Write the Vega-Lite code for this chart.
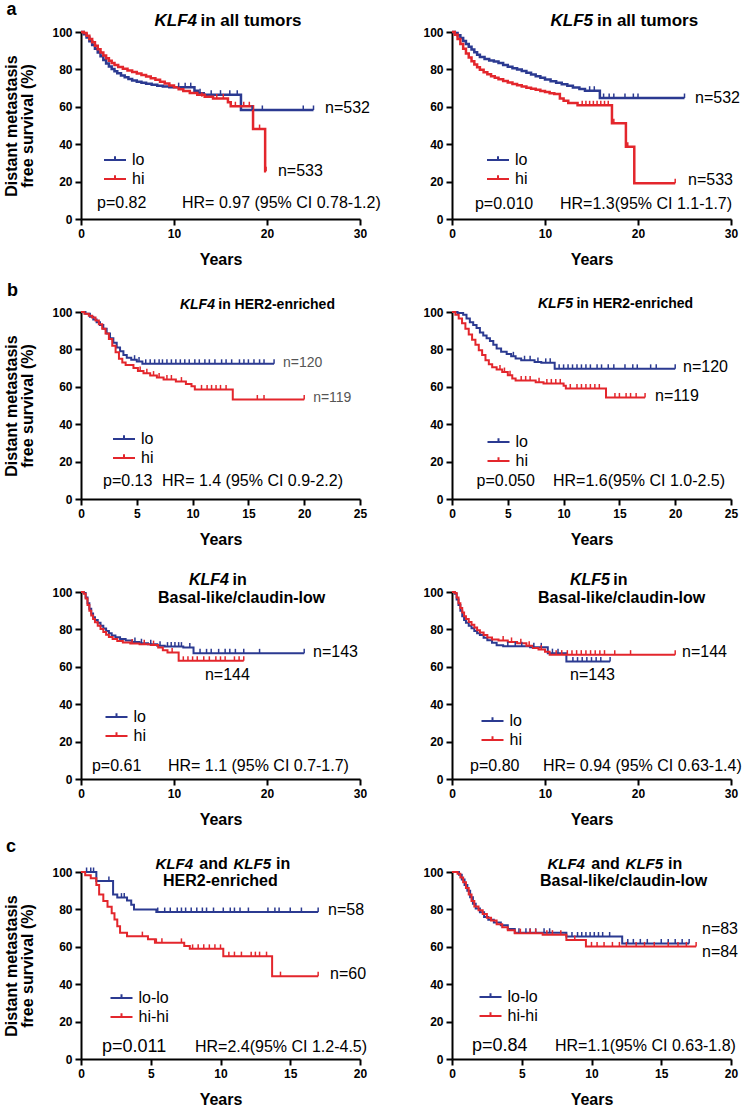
{
"$schema": "https://vega.github.io/schema/vega-lite/v6.json",
"background": "white",
"padding": {"left": 3, "top": 0, "right": 0, "bottom": 0},
"bounds": "flush",
"columns": 2,
"spacing": {"row": 93, "column": 92},
"resolve": {"scale": {"color": "independent", "x": "independent", "y": "independent"}, "legend": {"color": "independent"}},
"config": {
  "font": "Liberation Sans",
  "view": {"stroke": null},
  "axis": {"domainColor": "black", "domainWidth": 2, "tickColor": "black", "tickWidth": 2, "tickSize": 6, "labelFont": "Liberation Sans", "labelFontWeight": "bold", "labelFontSize": 12, "labelColor": "black", "labelPadding": 3, "labelFlush": false, "labelOverlap": false, "titleFont": "Liberation Sans", "titleFontWeight": "bold", "titleFontSize": 16, "titleColor": "black", "titleLineHeight": 16, "grid": false},
  "axisX": {"titlePadding": 12},
  "axisY": {"titlePadding": 16},
  "legend": {"orient": "none", "title": null, "labelFont": "Liberation Sans", "labelFontSize": 16, "labelColor": "black", "symbolType": "M-2,0H2M0,0V-0.7", "symbolSize": 121, "symbolStrokeWidth": 2, "padding": 0, "rowPadding": 3, "labelOffset": 9},
  "text": {"font": "Liberation Sans", "color": "black", "align": "left", "baseline": "alphabetic"}
},
"datasets": {
"P1": [
{"t":0,"s":100,"g":"lo"},{"t":0.3,"s":98.8,"g":"lo"},{"t":0.6,"s":97,"g":"lo"},{"t":0.9,"s":95,"g":"lo"},{"t":1.2,"s":93,"g":"lo"},{"t":1.5,"s":91,"g":"lo"},{"t":1.8,"s":89,"g":"lo"},{"t":2.1,"s":87,"g":"lo"},{"t":2.4,"s":85,"g":"lo"},{"t":2.7,"s":83.2,"g":"lo"},{"t":3,"s":81.6,"g":"lo"},{"t":3.3,"s":80.2,"g":"lo"},{"t":3.6,"s":79,"g":"lo"},{"t":3.9,"s":77.9,"g":"lo"},{"t":4.3,"s":76.8,"g":"lo"},{"t":4.7,"s":75.8,"g":"lo"},{"t":5.1,"s":74.9,"g":"lo"},{"t":5.5,"s":74.1,"g":"lo"},{"t":6,"s":73.4,"g":"lo"},{"t":6.5,"s":72.8,"g":"lo"},{"t":7,"s":72.3,"g":"lo"},{"t":7.6,"s":71.8,"g":"lo"},{"t":8.2,"s":71.3,"g":"lo"},{"t":8.8,"s":70.8,"g":"lo"},{"t":9.5,"s":70.5,"g":"lo"},{"t":12.2,"s":68.6,"g":"lo"},{"t":12.6,"s":67.3,"g":"lo"},{"t":13.2,"s":66.5,"g":"lo"},{"t":17.2,"s":58.3,"g":"lo"},{"t":25,"s":58.3,"g":"lo"},
{"t":0,"s":100,"g":"hi"},{"t":0.3,"s":99.5,"g":"hi"},{"t":0.6,"s":98,"g":"hi"},{"t":0.9,"s":96.3,"g":"hi"},{"t":1.2,"s":94.5,"g":"hi"},{"t":1.5,"s":92.6,"g":"hi"},{"t":1.8,"s":90.8,"g":"hi"},{"t":2.1,"s":89.1,"g":"hi"},{"t":2.4,"s":87.5,"g":"hi"},{"t":2.7,"s":86,"g":"hi"},{"t":3,"s":84.6,"g":"hi"},{"t":3.3,"s":83.4,"g":"hi"},{"t":3.6,"s":82.4,"g":"hi"},{"t":4,"s":81.3,"g":"hi"},{"t":4.5,"s":80.3,"g":"hi"},{"t":5,"s":79.4,"g":"hi"},{"t":5.5,"s":78.6,"g":"hi"},{"t":6,"s":77.8,"g":"hi"},{"t":6.5,"s":77,"g":"hi"},{"t":7,"s":76.2,"g":"hi"},{"t":7.5,"s":75.3,"g":"hi"},{"t":8,"s":74.4,"g":"hi"},{"t":8.5,"s":73.4,"g":"hi"},{"t":9,"s":72.4,"g":"hi"},{"t":9.5,"s":71.4,"g":"hi"},{"t":10,"s":70.4,"g":"hi"},{"t":10.5,"s":69.4,"g":"hi"},{"t":11,"s":68.4,"g":"hi"},{"t":11.7,"s":67.4,"g":"hi"},{"t":12.5,"s":66.4,"g":"hi"},{"t":13.3,"s":65.4,"g":"hi"},{"t":14.2,"s":64.5,"g":"hi"},{"t":15.8,"s":62.4,"g":"hi"},{"t":16.1,"s":60.3,"g":"hi"},{"t":18.5,"s":48.1,"g":"hi"},{"t":19.8,"s":25.5,"g":"hi"},{"t":19.9,"s":25.5,"g":"hi"}
],
"P1c": [
{"t":10.5,"s":70.5,"g":"lo"},{"t":11.2,"s":70.5,"g":"lo"},{"t":11.8,"s":70.5,"g":"lo"},{"t":12.8,"s":67.3,"g":"lo"},{"t":14,"s":66.5,"g":"lo"},{"t":15,"s":66.5,"g":"lo"},{"t":16,"s":66.5,"g":"lo"},{"t":16.8,"s":66.5,"g":"lo"},{"t":18.4,"s":58.3,"g":"lo"},{"t":19.5,"s":58.3,"g":"lo"},{"t":23.9,"s":58.3,"g":"lo"},{"t":25,"s":58.3,"g":"lo"},
{"t":13,"s":65.4,"g":"hi"},{"t":14.6,"s":64.5,"g":"hi"},{"t":15.3,"s":64.5,"g":"hi"},{"t":16.6,"s":60.3,"g":"hi"},{"t":17.5,"s":60.3,"g":"hi"},{"t":18.1,"s":60.3,"g":"hi"},{"t":19.2,"s":48.1,"g":"hi"},{"t":19.9,"s":25.5,"g":"hi"}
],
"P1t": [
{"t":12.47,"s":103.2,"txt":"KLF4","k":"ti"},{"t":12.85,"s":103.2,"txt":"in all tumors","k":"tn"},
{"t":26.24,"s":56.7,"txt":"n=532","k":"ann"},{"t":21.18,"s":23,"txt":"n=533","k":"ann"},
{"t":1.72,"s":5.9,"txt":"p=0.82","k":"ann"},{"t":10.86,"s":5.9,"txt":"HR= 0.97 (95% CI 0.78-1.2)","k":"ann"},
{"t":-8,"s":109.3,"txt":"a","k":"lab"}
],
"P2": [
{"t":0,"s":100,"g":"lo"},{"t":0.3,"s":99.5,"g":"lo"},{"t":0.6,"s":98.3,"g":"lo"},{"t":0.9,"s":96.8,"g":"lo"},{"t":1.2,"s":95.2,"g":"lo"},{"t":1.5,"s":93.6,"g":"lo"},{"t":1.8,"s":92.1,"g":"lo"},{"t":2.1,"s":90.6,"g":"lo"},{"t":2.4,"s":89.2,"g":"lo"},{"t":2.7,"s":87.8,"g":"lo"},{"t":3,"s":86.6,"g":"lo"},{"t":3.5,"s":85.5,"g":"lo"},{"t":4,"s":84.7,"g":"lo"},{"t":4.5,"s":84.2,"g":"lo"},{"t":5,"s":83.4,"g":"lo"},{"t":5.5,"s":82.3,"g":"lo"},{"t":6,"s":81.4,"g":"lo"},{"t":6.5,"s":80.6,"g":"lo"},{"t":7,"s":79.9,"g":"lo"},{"t":7.5,"s":79.1,"g":"lo"},{"t":8,"s":78.2,"g":"lo"},{"t":8.5,"s":77.3,"g":"lo"},{"t":9,"s":76.4,"g":"lo"},{"t":9.5,"s":75.5,"g":"lo"},{"t":10,"s":74.6,"g":"lo"},{"t":10.6,"s":73.7,"g":"lo"},{"t":11.2,"s":72.8,"g":"lo"},{"t":11.8,"s":72,"g":"lo"},{"t":12.4,"s":71.2,"g":"lo"},{"t":13,"s":70.3,"g":"lo"},{"t":13.7,"s":69.5,"g":"lo"},{"t":14.3,"s":68.6,"g":"lo"},{"t":15.9,"s":64.7,"g":"lo"},{"t":25,"s":64.7,"g":"lo"},
{"t":0,"s":100,"g":"hi"},{"t":0.3,"s":98.5,"g":"hi"},{"t":0.6,"s":96.2,"g":"hi"},{"t":0.9,"s":93.6,"g":"hi"},{"t":1.2,"s":91,"g":"hi"},{"t":1.5,"s":88.5,"g":"hi"},{"t":1.8,"s":86.3,"g":"hi"},{"t":2.1,"s":84.4,"g":"hi"},{"t":2.4,"s":82.6,"g":"hi"},{"t":2.7,"s":81.1,"g":"hi"},{"t":3,"s":79.8,"g":"hi"},{"t":3.4,"s":78.5,"g":"hi"},{"t":3.8,"s":77.4,"g":"hi"},{"t":4.2,"s":76.4,"g":"hi"},{"t":4.6,"s":75.5,"g":"hi"},{"t":5,"s":74.7,"g":"hi"},{"t":5.5,"s":73.8,"g":"hi"},{"t":6,"s":73,"g":"hi"},{"t":6.5,"s":72.2,"g":"hi"},{"t":7,"s":71.5,"g":"hi"},{"t":7.5,"s":70.8,"g":"hi"},{"t":8,"s":70.2,"g":"hi"},{"t":8.5,"s":69.6,"g":"hi"},{"t":9,"s":69.1,"g":"hi"},{"t":9.5,"s":68.5,"g":"hi"},{"t":10,"s":67.9,"g":"hi"},{"t":10.5,"s":67.3,"g":"hi"},{"t":11,"s":66.8,"g":"hi"},{"t":11.6,"s":64.5,"g":"hi"},{"t":12,"s":63.2,"g":"hi"},{"t":12.5,"s":62,"g":"hi"},{"t":13.5,"s":60.8,"g":"hi"},{"t":17.2,"s":51.2,"g":"hi"},{"t":18.7,"s":38.6,"g":"hi"},{"t":19.6,"s":19.1,"g":"hi"},{"t":24,"s":19.1,"g":"hi"}
],
"P2c": [
{"t":14.8,"s":68.6,"g":"lo"},{"t":15.3,"s":68.6,"g":"lo"},{"t":16.3,"s":64.7,"g":"lo"},{"t":16.9,"s":64.7,"g":"lo"},{"t":17.4,"s":64.7,"g":"lo"},{"t":18.6,"s":64.7,"g":"lo"},{"t":19.5,"s":64.7,"g":"lo"},{"t":20,"s":64.7,"g":"lo"},{"t":25,"s":64.7,"g":"lo"},
{"t":14,"s":60.8,"g":"hi"},{"t":14.4,"s":60.8,"g":"hi"},{"t":14.8,"s":60.8,"g":"hi"},{"t":15.2,"s":60.8,"g":"hi"},{"t":15.6,"s":60.8,"g":"hi"},{"t":16,"s":60.8,"g":"hi"},{"t":16.4,"s":60.8,"g":"hi"},{"t":16.8,"s":60.8,"g":"hi"},{"t":17.4,"s":51.2,"g":"hi"},{"t":18.9,"s":38.6,"g":"hi"},{"t":24,"s":19.1,"g":"hi"}
],
"P2t": [
{"t":15.16,"s":103.2,"txt":"KLF5","k":"ti"},{"t":15.6,"s":103.2,"txt":"in all tumors","k":"tn"},
{"t":26.13,"s":61.8,"txt":"n=532","k":"ann"},{"t":25.38,"s":18.3,"txt":"n=533","k":"ann"},
{"t":2.47,"s":5.4,"txt":"p=0.010","k":"ann"},{"t":11.61,"s":5.4,"txt":"HR=1.3(95% CI 1.1-1.7)","k":"ann"}
],
"P3": [
{"t":0,"s":100,"g":"lo"},{"t":0.4,"s":99,"g":"lo"},{"t":0.8,"s":97.5,"g":"lo"},{"t":1.1,"s":96,"g":"lo"},{"t":1.4,"s":94.5,"g":"lo"},{"t":1.7,"s":93,"g":"lo"},{"t":2,"s":91,"g":"lo"},{"t":2.3,"s":88.5,"g":"lo"},{"t":2.6,"s":86,"g":"lo"},{"t":2.9,"s":83.5,"g":"lo"},{"t":3.2,"s":81,"g":"lo"},{"t":3.5,"s":79,"g":"lo"},{"t":3.8,"s":77,"g":"lo"},{"t":4.1,"s":75.5,"g":"lo"},{"t":4.5,"s":74.5,"g":"lo"},{"t":5,"s":73.5,"g":"lo"},{"t":5.5,"s":72.3,"g":"lo"},{"t":17.3,"s":72.3,"g":"lo"},
{"t":0,"s":100,"g":"hi"},{"t":0.3,"s":99,"g":"hi"},{"t":0.7,"s":98,"g":"hi"},{"t":1,"s":97,"g":"hi"},{"t":1.3,"s":95.5,"g":"hi"},{"t":1.6,"s":93.5,"g":"hi"},{"t":1.9,"s":91,"g":"hi"},{"t":2.2,"s":88.5,"g":"hi"},{"t":2.5,"s":85.5,"g":"hi"},{"t":2.8,"s":82,"g":"hi"},{"t":3.1,"s":78.5,"g":"hi"},{"t":3.4,"s":75,"g":"hi"},{"t":3.7,"s":73,"g":"hi"},{"t":4,"s":71.7,"g":"hi"},{"t":4.7,"s":70,"g":"hi"},{"t":5.1,"s":68.5,"g":"hi"},{"t":5.6,"s":67.3,"g":"hi"},{"t":6.2,"s":66,"g":"hi"},{"t":6.8,"s":65,"g":"hi"},{"t":7.4,"s":63.9,"g":"hi"},{"t":8.5,"s":62.8,"g":"hi"},{"t":9.4,"s":61.5,"g":"hi"},{"t":9.9,"s":60.3,"g":"hi"},{"t":10.2,"s":58.6,"g":"hi"},{"t":13.6,"s":53.2,"g":"hi"},{"t":20,"s":53.2,"g":"hi"}
],
"P3c": [
{"t":4.8,"s":74.5,"g":"lo"},{"t":5.2,"s":73.5,"g":"lo"},{"t":5.8,"s":72.3,"g":"lo"},{"t":6.2,"s":72.3,"g":"lo"},{"t":6.6,"s":72.3,"g":"lo"},{"t":7,"s":72.3,"g":"lo"},{"t":7.3,"s":72.3,"g":"lo"},{"t":7.7,"s":72.3,"g":"lo"},{"t":8.1,"s":72.3,"g":"lo"},{"t":8.5,"s":72.3,"g":"lo"},{"t":8.9,"s":72.3,"g":"lo"},{"t":9.3,"s":72.3,"g":"lo"},{"t":9.7,"s":72.3,"g":"lo"},{"t":10.2,"s":72.3,"g":"lo"},{"t":10.6,"s":72.3,"g":"lo"},{"t":11.1,"s":72.3,"g":"lo"},{"t":11.5,"s":72.3,"g":"lo"},{"t":12,"s":72.3,"g":"lo"},{"t":12.6,"s":72.3,"g":"lo"},{"t":13,"s":72.3,"g":"lo"},{"t":13.5,"s":72.3,"g":"lo"},{"t":14.2,"s":72.3,"g":"lo"},{"t":14.6,"s":72.3,"g":"lo"},{"t":15,"s":72.3,"g":"lo"},{"t":15.5,"s":72.3,"g":"lo"},{"t":16,"s":72.3,"g":"lo"},{"t":16.4,"s":72.3,"g":"lo"},{"t":17.3,"s":72.3,"g":"lo"},
{"t":5.3,"s":68.5,"g":"hi"},{"t":5.9,"s":67.3,"g":"hi"},{"t":6.5,"s":66,"g":"hi"},{"t":7,"s":65,"g":"hi"},{"t":7.7,"s":63.9,"g":"hi"},{"t":8.1,"s":63.9,"g":"hi"},{"t":9,"s":62.8,"g":"hi"},{"t":10.8,"s":58.6,"g":"hi"},{"t":11.3,"s":58.6,"g":"hi"},{"t":11.7,"s":58.6,"g":"hi"},{"t":12.1,"s":58.6,"g":"hi"},{"t":12.5,"s":58.6,"g":"hi"},{"t":13,"s":58.6,"g":"hi"},{"t":15.8,"s":53.2,"g":"hi"},{"t":16.4,"s":53.2,"g":"hi"},{"t":20,"s":53.2,"g":"hi"}
],
"P3t": [
{"t":12,"s":101.6,"txt":"KLF4","k":"ti"},{"t":12.3,"s":101.6,"txt":"in HER2-enriched","k":"tn"},
{"t":18.1,"s":70.6,"txt":"n=120","k":"ng"},{"t":20.8,"s":51.9,"txt":"n=119","k":"ng"},
{"t":1.97,"s":7,"txt":"p=0.13","k":"ann"},{"t":7.26,"s":7,"txt":"HR= 1.4 (95% CI 0.9-2.2)","k":"ann"},
{"t":-6.63,"s":108.6,"txt":"b","k":"lab"}
],
"P4": [
{"t":0,"s":100,"g":"lo"},{"t":0.5,"s":99.5,"g":"lo"},{"t":1,"s":98.5,"g":"lo"},{"t":1.3,"s":96.5,"g":"lo"},{"t":1.6,"s":94.5,"g":"lo"},{"t":1.9,"s":93,"g":"lo"},{"t":2.2,"s":91.5,"g":"lo"},{"t":2.5,"s":89,"g":"lo"},{"t":2.8,"s":87.5,"g":"lo"},{"t":3.1,"s":86,"g":"lo"},{"t":3.4,"s":84.5,"g":"lo"},{"t":3.7,"s":82.5,"g":"lo"},{"t":4,"s":80.5,"g":"lo"},{"t":4.4,"s":78.8,"g":"lo"},{"t":4.9,"s":77.5,"g":"lo"},{"t":5.3,"s":76.3,"g":"lo"},{"t":5.7,"s":75.2,"g":"lo"},{"t":6.2,"s":74.2,"g":"lo"},{"t":7.4,"s":73.3,"g":"lo"},{"t":8,"s":72.8,"g":"lo"},{"t":9.2,"s":69.6,"g":"lo"},{"t":20,"s":69.6,"g":"lo"},
{"t":0,"s":100,"g":"hi"},{"t":0.3,"s":98.5,"g":"hi"},{"t":0.6,"s":96.5,"g":"hi"},{"t":0.9,"s":94,"g":"hi"},{"t":1.2,"s":91,"g":"hi"},{"t":1.5,"s":88,"g":"hi"},{"t":1.8,"s":85.2,"g":"hi"},{"t":2.1,"s":82.5,"g":"hi"},{"t":2.4,"s":79.5,"g":"hi"},{"t":2.7,"s":77,"g":"hi"},{"t":3,"s":74.2,"g":"hi"},{"t":3.3,"s":72,"g":"hi"},{"t":3.6,"s":70.5,"g":"hi"},{"t":4,"s":69.3,"g":"hi"},{"t":4.5,"s":67.9,"g":"hi"},{"t":5,"s":66.2,"g":"hi"},{"t":5.4,"s":64.5,"g":"hi"},{"t":5.7,"s":63.4,"g":"hi"},{"t":7.5,"s":62.4,"g":"hi"},{"t":8.2,"s":61.8,"g":"hi"},{"t":10,"s":60.5,"g":"hi"},{"t":10.2,"s":59.1,"g":"hi"},{"t":13.8,"s":54.3,"g":"hi"},{"t":17.3,"s":54.3,"g":"hi"}
],
"P4c": [
{"t":5.5,"s":76.3,"g":"lo"},{"t":6.5,"s":74.2,"g":"lo"},{"t":7,"s":74.2,"g":"lo"},{"t":7.7,"s":73.3,"g":"lo"},{"t":8.4,"s":72.8,"g":"lo"},{"t":8.8,"s":72.8,"g":"lo"},{"t":9.6,"s":69.6,"g":"lo"},{"t":10,"s":69.6,"g":"lo"},{"t":10.4,"s":69.6,"g":"lo"},{"t":10.8,"s":69.6,"g":"lo"},{"t":11.2,"s":69.6,"g":"lo"},{"t":11.6,"s":69.6,"g":"lo"},{"t":12,"s":69.6,"g":"lo"},{"t":12.4,"s":69.6,"g":"lo"},{"t":13,"s":69.6,"g":"lo"},{"t":13.4,"s":69.6,"g":"lo"},{"t":14,"s":69.6,"g":"lo"},{"t":14.5,"s":69.6,"g":"lo"},{"t":15.5,"s":69.6,"g":"lo"},{"t":16.2,"s":69.6,"g":"lo"},{"t":16.6,"s":69.6,"g":"lo"},{"t":17.8,"s":69.6,"g":"lo"},{"t":18.3,"s":69.6,"g":"lo"},{"t":20,"s":69.6,"g":"lo"},
{"t":4.3,"s":69.3,"g":"hi"},{"t":4.7,"s":67.9,"g":"hi"},{"t":5.2,"s":66.2,"g":"hi"},{"t":6.2,"s":63.4,"g":"hi"},{"t":6.6,"s":63.4,"g":"hi"},{"t":7,"s":63.4,"g":"hi"},{"t":7.8,"s":62.4,"g":"hi"},{"t":8.5,"s":61.8,"g":"hi"},{"t":8.9,"s":61.8,"g":"hi"},{"t":9.3,"s":61.8,"g":"hi"},{"t":9.7,"s":61.8,"g":"hi"},{"t":10.6,"s":59.1,"g":"hi"},{"t":11.2,"s":59.1,"g":"hi"},{"t":11.6,"s":59.1,"g":"hi"},{"t":12,"s":59.1,"g":"hi"},{"t":12.4,"s":59.1,"g":"hi"},{"t":12.8,"s":59.1,"g":"hi"},{"t":13.2,"s":59.1,"g":"hi"},{"t":14.6,"s":54.3,"g":"hi"},{"t":15,"s":54.3,"g":"hi"},{"t":15.6,"s":54.3,"g":"hi"},{"t":16,"s":54.3,"g":"hi"},{"t":16.5,"s":54.3,"g":"hi"},{"t":17.3,"s":54.3,"g":"hi"}
],
"P4t": [
{"t":10.84,"s":102.1,"txt":"KLF5","k":"ti"},{"t":11.15,"s":102.1,"txt":"in HER2-enriched","k":"tn"},
{"t":20.7,"s":67.9,"txt":"n=120","k":"ann"},{"t":18.2,"s":52.4,"txt":"n=119","k":"ann"},
{"t":2.2,"s":7,"txt":"p=0.050","k":"ann"},{"t":9.05,"s":7,"txt":"HR=1.6(95% CI 1.0-2.5)","k":"ann"}
],
"P5": [
{"t":0,"s":100,"g":"lo"},{"t":0.3,"s":99.5,"g":"lo"},{"t":0.5,"s":97,"g":"lo"},{"t":0.7,"s":94,"g":"lo"},{"t":0.9,"s":91,"g":"lo"},{"t":1.1,"s":88.5,"g":"lo"},{"t":1.3,"s":86.5,"g":"lo"},{"t":1.5,"s":85,"g":"lo"},{"t":1.8,"s":83.5,"g":"lo"},{"t":2.1,"s":82,"g":"lo"},{"t":2.4,"s":80.5,"g":"lo"},{"t":2.7,"s":79.2,"g":"lo"},{"t":3,"s":78,"g":"lo"},{"t":3.3,"s":76.8,"g":"lo"},{"t":3.7,"s":75.8,"g":"lo"},{"t":4.2,"s":74.9,"g":"lo"},{"t":4.8,"s":74,"g":"lo"},{"t":5.5,"s":73.3,"g":"lo"},{"t":6.3,"s":72.6,"g":"lo"},{"t":7.2,"s":72,"g":"lo"},{"t":8.2,"s":71.2,"g":"lo"},{"t":9,"s":70.8,"g":"lo"},{"t":11,"s":70.3,"g":"lo"},{"t":12.1,"s":67.2,"g":"lo"},{"t":24,"s":67.2,"g":"lo"},
{"t":0,"s":100,"g":"hi"},{"t":0.3,"s":99,"g":"hi"},{"t":0.5,"s":96.5,"g":"hi"},{"t":0.7,"s":93,"g":"hi"},{"t":0.9,"s":90,"g":"hi"},{"t":1.1,"s":87.5,"g":"hi"},{"t":1.3,"s":85.5,"g":"hi"},{"t":1.5,"s":83.8,"g":"hi"},{"t":1.8,"s":82,"g":"hi"},{"t":2.1,"s":80.2,"g":"hi"},{"t":2.4,"s":78.6,"g":"hi"},{"t":2.7,"s":77.2,"g":"hi"},{"t":3,"s":76,"g":"hi"},{"t":3.4,"s":74.8,"g":"hi"},{"t":3.9,"s":73.8,"g":"hi"},{"t":4.5,"s":73,"g":"hi"},{"t":5.3,"s":72.4,"g":"hi"},{"t":6.3,"s":72,"g":"hi"},{"t":7.5,"s":71.6,"g":"hi"},{"t":8.3,"s":70.3,"g":"hi"},{"t":8.8,"s":68.8,"g":"hi"},{"t":9.3,"s":67.6,"g":"hi"},{"t":10.5,"s":63.2,"g":"hi"},{"t":17.5,"s":63.2,"g":"hi"}
],
"P5c": [
{"t":5.8,"s":73.3,"g":"lo"},{"t":6.5,"s":72.6,"g":"lo"},{"t":7.5,"s":72,"g":"lo"},{"t":8.5,"s":71.2,"g":"lo"},{"t":9.3,"s":70.8,"g":"lo"},{"t":9.7,"s":70.8,"g":"lo"},{"t":10.1,"s":70.8,"g":"lo"},{"t":10.5,"s":70.8,"g":"lo"},{"t":10.8,"s":70.8,"g":"lo"},{"t":11.7,"s":70.3,"g":"lo"},{"t":12.8,"s":67.2,"g":"lo"},{"t":13.5,"s":67.2,"g":"lo"},{"t":14,"s":67.2,"g":"lo"},{"t":14.8,"s":67.2,"g":"lo"},{"t":15.5,"s":67.2,"g":"lo"},{"t":16,"s":67.2,"g":"lo"},{"t":16.6,"s":67.2,"g":"lo"},{"t":17.5,"s":67.2,"g":"lo"},{"t":19.2,"s":67.2,"g":"lo"},{"t":24,"s":67.2,"g":"lo"},
{"t":5.5,"s":72.4,"g":"hi"},{"t":6.8,"s":72,"g":"hi"},{"t":7.8,"s":71.6,"g":"hi"},{"t":9.8,"s":67.6,"g":"hi"},{"t":11,"s":63.2,"g":"hi"},{"t":11.5,"s":63.2,"g":"hi"},{"t":12,"s":63.2,"g":"hi"},{"t":12.5,"s":63.2,"g":"hi"},{"t":13.2,"s":63.2,"g":"hi"},{"t":13.8,"s":63.2,"g":"hi"},{"t":14.5,"s":63.2,"g":"hi"},{"t":15,"s":63.2,"g":"hi"},{"t":15.5,"s":63.2,"g":"hi"},{"t":16.5,"s":63.2,"g":"hi"},{"t":17,"s":63.2,"g":"hi"},{"t":17.5,"s":63.2,"g":"hi"}
],
"P5t": [
{"t":15.91,"s":103.7,"txt":"KLF4","k":"ti"},{"t":16.3,"s":103.7,"txt":"in","k":"tn"},{"t":8.28,"s":94.1,"txt":"Basal-like/claudin-low","k":"tn"},
{"t":24.95,"s":65.2,"txt":"n=143","k":"ann"},{"t":13.33,"s":52.9,"txt":"n=144","k":"ann"},
{"t":1.18,"s":4.3,"txt":"p=0.61","k":"ann"},{"t":9.35,"s":4.3,"txt":"HR= 1.1 (95% CI 0.7-1.7)","k":"ann"}
],
"P6": [
{"t":0,"s":100,"g":"lo"},{"t":0.3,"s":99,"g":"lo"},{"t":0.5,"s":96,"g":"lo"},{"t":0.7,"s":93,"g":"lo"},{"t":0.9,"s":90,"g":"lo"},{"t":1.1,"s":87,"g":"lo"},{"t":1.3,"s":85,"g":"lo"},{"t":1.5,"s":83.5,"g":"lo"},{"t":1.8,"s":82,"g":"lo"},{"t":2.1,"s":80.6,"g":"lo"},{"t":2.4,"s":79.2,"g":"lo"},{"t":2.7,"s":78,"g":"lo"},{"t":3,"s":77,"g":"lo"},{"t":3.4,"s":75.5,"g":"lo"},{"t":3.8,"s":74.2,"g":"lo"},{"t":4.3,"s":72.9,"g":"lo"},{"t":4.8,"s":71.5,"g":"lo"},{"t":5.5,"s":71,"g":"lo"},{"t":8.4,"s":70.4,"g":"lo"},{"t":10.3,"s":67.3,"g":"lo"},{"t":12.3,"s":62.8,"g":"lo"},{"t":17,"s":62.8,"g":"lo"},
{"t":0,"s":100,"g":"hi"},{"t":0.3,"s":99.5,"g":"hi"},{"t":0.5,"s":97,"g":"hi"},{"t":0.7,"s":94,"g":"hi"},{"t":0.9,"s":91.5,"g":"hi"},{"t":1.1,"s":89,"g":"hi"},{"t":1.3,"s":87,"g":"hi"},{"t":1.5,"s":85.5,"g":"hi"},{"t":1.8,"s":84,"g":"hi"},{"t":2.1,"s":82.5,"g":"hi"},{"t":2.4,"s":81,"g":"hi"},{"t":2.7,"s":79.5,"g":"hi"},{"t":3,"s":78.3,"g":"hi"},{"t":3.4,"s":77,"g":"hi"},{"t":3.8,"s":75.7,"g":"hi"},{"t":4.3,"s":74.6,"g":"hi"},{"t":5,"s":74,"g":"hi"},{"t":6,"s":73.3,"g":"hi"},{"t":7,"s":72.6,"g":"hi"},{"t":8,"s":71.2,"g":"hi"},{"t":8.7,"s":70.1,"g":"hi"},{"t":9.3,"s":69.2,"g":"hi"},{"t":10,"s":68,"g":"hi"},{"t":10.5,"s":66.5,"g":"hi"},{"t":24,"s":66.5,"g":"hi"}
],
"P6c": [
{"t":6,"s":71,"g":"lo"},{"t":6.8,"s":71,"g":"lo"},{"t":7.5,"s":71,"g":"lo"},{"t":8.8,"s":70.4,"g":"lo"},{"t":9.6,"s":70.4,"g":"lo"},{"t":10.8,"s":67.3,"g":"lo"},{"t":11.4,"s":67.3,"g":"lo"},{"t":13,"s":62.8,"g":"lo"},{"t":13.5,"s":62.8,"g":"lo"},{"t":14,"s":62.8,"g":"lo"},{"t":14.5,"s":62.8,"g":"lo"},{"t":15,"s":62.8,"g":"lo"},{"t":15.5,"s":62.8,"g":"lo"},{"t":16,"s":62.8,"g":"lo"},{"t":17,"s":62.8,"g":"lo"},
{"t":5.5,"s":74,"g":"hi"},{"t":6.4,"s":73.3,"g":"hi"},{"t":7.4,"s":72.6,"g":"hi"},{"t":8.3,"s":71.2,"g":"hi"},{"t":9.6,"s":69.2,"g":"hi"},{"t":11.2,"s":66.5,"g":"hi"},{"t":11.8,"s":66.5,"g":"hi"},{"t":12.4,"s":66.5,"g":"hi"},{"t":12.9,"s":66.5,"g":"hi"},{"t":13.4,"s":66.5,"g":"hi"},{"t":13.9,"s":66.5,"g":"hi"},{"t":14.4,"s":66.5,"g":"hi"},{"t":14.9,"s":66.5,"g":"hi"},{"t":15.4,"s":66.5,"g":"hi"},{"t":15.9,"s":66.5,"g":"hi"},{"t":16.4,"s":66.5,"g":"hi"},{"t":17.5,"s":66.5,"g":"hi"},{"t":19.2,"s":66.5,"g":"hi"},{"t":24,"s":66.5,"g":"hi"}
],
"P6t": [
{"t":16.99,"s":103.7,"txt":"KLF5","k":"ti"},{"t":17.35,"s":103.7,"txt":"in","k":"tn"},{"t":9.25,"s":94.1,"txt":"Basal-like/claudin-low","k":"tn"},
{"t":24.73,"s":65.2,"txt":"n=144","k":"ann"},{"t":12.69,"s":52.9,"txt":"n=143","k":"ann"},
{"t":1.94,"s":4.3,"txt":"p=0.80","k":"ann"},{"t":9.78,"s":4.3,"txt":"HR= 0.94 (95% CI 0.63-1.4)","k":"ann"}
],
"P7": [
{"t":0,"s":100,"g":"lo-lo"},{"t":1.1,"s":95.2,"g":"lo-lo"},{"t":2.3,"s":88,"g":"lo-lo"},{"t":2.6,"s":86.3,"g":"lo-lo"},{"t":3.3,"s":84.8,"g":"lo-lo"},{"t":3.6,"s":82.5,"g":"lo-lo"},{"t":3.8,"s":80,"g":"lo-lo"},{"t":5.4,"s":78.6,"g":"lo-lo"},{"t":17,"s":78.6,"g":"lo-lo"},
{"t":0,"s":100,"g":"hi-hi"},{"t":0.3,"s":98.3,"g":"hi-hi"},{"t":0.7,"s":96.6,"g":"hi-hi"},{"t":1.1,"s":93,"g":"hi-hi"},{"t":1.3,"s":88,"g":"hi-hi"},{"t":1.6,"s":84.5,"g":"hi-hi"},{"t":1.9,"s":81.4,"g":"hi-hi"},{"t":2.2,"s":78,"g":"hi-hi"},{"t":2.4,"s":74.6,"g":"hi-hi"},{"t":2.6,"s":71,"g":"hi-hi"},{"t":2.8,"s":67.5,"g":"hi-hi"},{"t":3.3,"s":65.7,"g":"hi-hi"},{"t":4.8,"s":64,"g":"hi-hi"},{"t":5.3,"s":62.1,"g":"hi-hi"},{"t":7.4,"s":60.4,"g":"hi-hi"},{"t":7.8,"s":58.9,"g":"hi-hi"},{"t":10.2,"s":55,"g":"hi-hi"},{"t":13.7,"s":44.3,"g":"hi-hi"},{"t":17,"s":44.3,"g":"hi-hi"}
],
"P7c": [
{"t":0.4,"s":100,"g":"lo-lo"},{"t":0.7,"s":100,"g":"lo-lo"},{"t":0.9,"s":100,"g":"lo-lo"},{"t":2,"s":95.2,"g":"lo-lo"},{"t":2.9,"s":86.3,"g":"lo-lo"},{"t":3.1,"s":86.3,"g":"lo-lo"},{"t":5.5,"s":78.6,"g":"lo-lo"},{"t":6,"s":78.6,"g":"lo-lo"},{"t":6.4,"s":78.6,"g":"lo-lo"},{"t":6.9,"s":78.6,"g":"lo-lo"},{"t":7.2,"s":78.6,"g":"lo-lo"},{"t":7.5,"s":78.6,"g":"lo-lo"},{"t":7.9,"s":78.6,"g":"lo-lo"},{"t":8.3,"s":78.6,"g":"lo-lo"},{"t":8.7,"s":78.6,"g":"lo-lo"},{"t":9,"s":78.6,"g":"lo-lo"},{"t":9.5,"s":78.6,"g":"lo-lo"},{"t":10.2,"s":78.6,"g":"lo-lo"},{"t":10.7,"s":78.6,"g":"lo-lo"},{"t":11,"s":78.6,"g":"lo-lo"},{"t":11.4,"s":78.6,"g":"lo-lo"},{"t":12,"s":78.6,"g":"lo-lo"},{"t":13.4,"s":78.6,"g":"lo-lo"},{"t":13.9,"s":78.6,"g":"lo-lo"},{"t":14.2,"s":78.6,"g":"lo-lo"},{"t":15,"s":78.6,"g":"lo-lo"},{"t":15.8,"s":78.6,"g":"lo-lo"},{"t":17,"s":78.6,"g":"lo-lo"},
{"t":4.4,"s":65.7,"g":"hi-hi"},{"t":5.4,"s":62.1,"g":"hi-hi"},{"t":5.8,"s":62.1,"g":"hi-hi"},{"t":7.2,"s":62.1,"g":"hi-hi"},{"t":8,"s":58.9,"g":"hi-hi"},{"t":8.4,"s":58.9,"g":"hi-hi"},{"t":8.8,"s":58.9,"g":"hi-hi"},{"t":9.2,"s":58.9,"g":"hi-hi"},{"t":9.6,"s":58.9,"g":"hi-hi"},{"t":10,"s":58.9,"g":"hi-hi"},{"t":10.6,"s":55,"g":"hi-hi"},{"t":11,"s":55,"g":"hi-hi"},{"t":11.5,"s":55,"g":"hi-hi"},{"t":12.2,"s":55,"g":"hi-hi"},{"t":12.5,"s":55,"g":"hi-hi"},{"t":12.8,"s":55,"g":"hi-hi"},{"t":13.3,"s":55,"g":"hi-hi"},{"t":14.3,"s":44.3,"g":"hi-hi"},{"t":17,"s":44.3,"g":"hi-hi"}
],
"P7t": [
{"t":8.03,"s":101.7,"txt":"KLF4","k":"ti"},{"t":9.5,"s":101.7,"txt":"and","k":"tc"},{"t":13.62,"s":101.7,"txt":"KLF5","k":"ti"},{"t":13.98,"s":101.7,"txt":"in","k":"tn"},{"t":5.88,"s":92.6,"txt":"HER2-enriched","k":"tn"},
{"t":17.71,"s":76.9,"txt":"n=58","k":"ann"},{"t":17.85,"s":43,"txt":"n=60","k":"ann"},
{"t":1.5,"s":3.8,"txt":"p=0.011","k":"pv"},{"t":8.17,"s":3.8,"txt":"HR=2.4(95% CI 1.2-4.5)","k":"ann"},
{"t":-5.38,"s":110.8,"txt":"c","k":"lab"}
],
"P8": [
{"t":0,"s":100,"g":"lo-lo"},{"t":0.5,"s":98.5,"g":"lo-lo"},{"t":0.7,"s":96,"g":"lo-lo"},{"t":0.9,"s":93,"g":"lo-lo"},{"t":1.1,"s":90,"g":"lo-lo"},{"t":1.3,"s":86.5,"g":"lo-lo"},{"t":1.5,"s":83,"g":"lo-lo"},{"t":1.7,"s":80.5,"g":"lo-lo"},{"t":2,"s":78.5,"g":"lo-lo"},{"t":2.3,"s":76,"g":"lo-lo"},{"t":2.6,"s":74.5,"g":"lo-lo"},{"t":3,"s":73,"g":"lo-lo"},{"t":3.5,"s":71.5,"g":"lo-lo"},{"t":4,"s":69.5,"g":"lo-lo"},{"t":4.5,"s":67.5,"g":"lo-lo"},{"t":8.2,"s":65.5,"g":"lo-lo"},{"t":12.2,"s":61.8,"g":"lo-lo"},{"t":17,"s":61.8,"g":"lo-lo"},
{"t":0,"s":100,"g":"hi-hi"},{"t":0.4,"s":99,"g":"hi-hi"},{"t":0.6,"s":97,"g":"hi-hi"},{"t":0.8,"s":94.5,"g":"hi-hi"},{"t":1,"s":91.5,"g":"hi-hi"},{"t":1.2,"s":88,"g":"hi-hi"},{"t":1.4,"s":84.5,"g":"hi-hi"},{"t":1.6,"s":81.5,"g":"hi-hi"},{"t":1.9,"s":79.5,"g":"hi-hi"},{"t":2.2,"s":77.5,"g":"hi-hi"},{"t":2.5,"s":75.5,"g":"hi-hi"},{"t":2.8,"s":74,"g":"hi-hi"},{"t":3.2,"s":72,"g":"hi-hi"},{"t":3.6,"s":70.5,"g":"hi-hi"},{"t":4,"s":68.8,"g":"hi-hi"},{"t":4.5,"s":67.3,"g":"hi-hi"},{"t":6.5,"s":66.5,"g":"hi-hi"},{"t":8.2,"s":63.6,"g":"hi-hi"},{"t":9.6,"s":60.2,"g":"hi-hi"},{"t":17.5,"s":60.2,"g":"hi-hi"}
],
"P8c": [
{"t":4.8,"s":67.5,"g":"lo-lo"},{"t":5.3,"s":67.5,"g":"lo-lo"},{"t":5.6,"s":67.5,"g":"lo-lo"},{"t":6,"s":67.5,"g":"lo-lo"},{"t":6.6,"s":67.5,"g":"lo-lo"},{"t":7,"s":67.5,"g":"lo-lo"},{"t":8.6,"s":65.5,"g":"lo-lo"},{"t":9,"s":65.5,"g":"lo-lo"},{"t":9.3,"s":65.5,"g":"lo-lo"},{"t":9.6,"s":65.5,"g":"lo-lo"},{"t":9.9,"s":65.5,"g":"lo-lo"},{"t":10.2,"s":65.5,"g":"lo-lo"},{"t":10.5,"s":65.5,"g":"lo-lo"},{"t":10.8,"s":65.5,"g":"lo-lo"},{"t":11.3,"s":65.5,"g":"lo-lo"},{"t":12.6,"s":61.8,"g":"lo-lo"},{"t":13,"s":61.8,"g":"lo-lo"},{"t":13.5,"s":61.8,"g":"lo-lo"},{"t":14,"s":61.8,"g":"lo-lo"},{"t":15,"s":61.8,"g":"lo-lo"},{"t":15.5,"s":61.8,"g":"lo-lo"},{"t":16,"s":61.8,"g":"lo-lo"},{"t":16.5,"s":61.8,"g":"lo-lo"},{"t":17,"s":61.8,"g":"lo-lo"},
{"t":4.9,"s":67.3,"g":"hi-hi"},{"t":5.6,"s":67.3,"g":"hi-hi"},{"t":6,"s":67.3,"g":"hi-hi"},{"t":6.8,"s":66.5,"g":"hi-hi"},{"t":7.2,"s":66.5,"g":"hi-hi"},{"t":7.8,"s":66.5,"g":"hi-hi"},{"t":8.8,"s":63.6,"g":"hi-hi"},{"t":10,"s":60.2,"g":"hi-hi"},{"t":10.4,"s":60.2,"g":"hi-hi"},{"t":10.9,"s":60.2,"g":"hi-hi"},{"t":11.5,"s":60.2,"g":"hi-hi"},{"t":12,"s":60.2,"g":"hi-hi"},{"t":12.5,"s":60.2,"g":"hi-hi"},{"t":13.2,"s":60.2,"g":"hi-hi"},{"t":13.8,"s":60.2,"g":"hi-hi"},{"t":14.5,"s":60.2,"g":"hi-hi"},{"t":15.5,"s":60.2,"g":"hi-hi"},{"t":16.2,"s":60.2,"g":"hi-hi"},{"t":16.8,"s":60.2,"g":"hi-hi"},{"t":17.5,"s":60.2,"g":"hi-hi"}
],
"P8t": [
{"t":9.53,"s":101.7,"txt":"KLF4","k":"ti"},{"t":11,"s":101.7,"txt":"and","k":"tc"},{"t":15.13,"s":101.7,"txt":"KLF5","k":"ti"},{"t":15.48,"s":101.7,"txt":"in","k":"tn"},{"t":6.31,"s":92.6,"txt":"Basal-like/claudin-low","k":"tn"},
{"t":17.92,"s":66.7,"txt":"n=83","k":"ann"},{"t":17.92,"s":54.3,"txt":"n=84","k":"ann"},
{"t":1.43,"s":4.3,"txt":"p=0.84","k":"pv"},{"t":7.38,"s":4.3,"txt":"HR=1.1(95% CI 0.63-1.8)","k":"ann"}
]
},
"concat": [
{
 "width": 279, "height": 187,
 "encoding": {
   "x": {"field": "t", "type": "quantitative", "scale": {"domain": [0, 30], "nice": false}, "axis": {"values": [0, 10, 20, 30], "title": "Years"}},
   "y": {"field": "s", "type": "quantitative", "scale": {"domain": [0, 100], "nice": false}, "axis": {"values": [0, 20, 40, 60, 80, 100], "title": ["Distant metastasis", "free survival (%)"]}}
 },
 "layer": [
  {"data": {"name": "P1"}, "mark": {"type": "line", "interpolate": "step-after", "strokeWidth": 2.5},
   "encoding": {"color": {"field": "g", "type": "nominal", "scale": {"domain": ["lo", "hi"], "range": ["#2B3A91", "#E3262C"]}, "legend": {"legendX": 26, "legendY": 120}}}},
  {"data": {"name": "P1c"}, "mark": {"type": "point", "shape": "M0,0V-1", "size": 81, "filled": false, "strokeWidth": 1.5, "opacity": 1},
   "encoding": {"color": {"field": "g", "type": "nominal", "legend": null}}},
  {"data": {"name": "P1t"}, "transform": [{"filter": "datum.k == 'ti'"}], "mark": {"type": "text", "align": "right", "fontStyle": "italic", "fontWeight": "bold", "fontSize": 17}, "encoding": {"text": {"field": "txt"}}},
  {"data": {"name": "P1t"}, "transform": [{"filter": "datum.k == 'tn'"}], "mark": {"type": "text", "fontWeight": "bold", "fontSize": 17}, "encoding": {"text": {"field": "txt"}}},
  {"data": {"name": "P1t"}, "transform": [{"filter": "datum.k == 'ann'"}], "mark": {"type": "text", "fontSize": 16}, "encoding": {"text": {"field": "txt"}}},
  {"data": {"name": "P1t"}, "transform": [{"filter": "datum.k == 'lab'"}], "mark": {"type": "text", "fontWeight": "bold", "fontSize": 18}, "encoding": {"text": {"field": "txt"}}}
 ]
},
{
 "width": 279, "height": 187,
 "encoding": {
   "x": {"field": "t", "type": "quantitative", "scale": {"domain": [0, 30], "nice": false}, "axis": {"values": [0, 10, 20, 30], "title": "Years"}},
   "y": {"field": "s", "type": "quantitative", "scale": {"domain": [0, 100], "nice": false}, "axis": {"values": [0, 20, 40, 60, 80, 100], "title": null}}
 },
 "layer": [
  {"data": {"name": "P2"}, "mark": {"type": "line", "interpolate": "step-after", "strokeWidth": 2.5},
   "encoding": {"color": {"field": "g", "type": "nominal", "scale": {"domain": ["lo", "hi"], "range": ["#2B3A91", "#E3262C"]}, "legend": {"legendX": 38, "legendY": 120}}}},
  {"data": {"name": "P2c"}, "mark": {"type": "point", "shape": "M0,0V-1", "size": 81, "filled": false, "strokeWidth": 1.5, "opacity": 1},
   "encoding": {"color": {"field": "g", "type": "nominal", "legend": null}}},
  {"data": {"name": "P2t"}, "transform": [{"filter": "datum.k == 'ti'"}], "mark": {"type": "text", "align": "right", "fontStyle": "italic", "fontWeight": "bold", "fontSize": 17}, "encoding": {"text": {"field": "txt"}}},
  {"data": {"name": "P2t"}, "transform": [{"filter": "datum.k == 'tn'"}], "mark": {"type": "text", "fontWeight": "bold", "fontSize": 17}, "encoding": {"text": {"field": "txt"}}},
  {"data": {"name": "P2t"}, "transform": [{"filter": "datum.k == 'ann'"}], "mark": {"type": "text", "fontSize": 16}, "encoding": {"text": {"field": "txt"}}}
 ]
},
{
 "width": 279, "height": 187,
 "encoding": {
   "x": {"field": "t", "type": "quantitative", "scale": {"domain": [0, 25], "nice": false}, "axis": {"values": [0, 5, 10, 15, 20, 25], "title": "Years"}},
   "y": {"field": "s", "type": "quantitative", "scale": {"domain": [0, 100], "nice": false}, "axis": {"values": [0, 20, 40, 60, 80, 100], "title": ["Distant metastasis", "free survival (%)"]}}
 },
 "layer": [
  {"data": {"name": "P3"}, "mark": {"type": "line", "interpolate": "step-after", "strokeWidth": 2},
   "encoding": {"color": {"field": "g", "type": "nominal", "scale": {"domain": ["lo", "hi"], "range": ["#2B3A91", "#E3262C"]}, "legend": {"legendX": 35, "legendY": 119}}}},
  {"data": {"name": "P3c"}, "mark": {"type": "point", "shape": "M0,0V-1", "size": 81, "filled": false, "strokeWidth": 1.5, "opacity": 1},
   "encoding": {"color": {"field": "g", "type": "nominal", "legend": null}}},
  {"data": {"name": "P3t"}, "transform": [{"filter": "datum.k == 'ti'"}], "mark": {"type": "text", "align": "right", "fontStyle": "italic", "fontWeight": "bold", "fontSize": 14}, "encoding": {"text": {"field": "txt"}}},
  {"data": {"name": "P3t"}, "transform": [{"filter": "datum.k == 'tn'"}], "mark": {"type": "text", "fontWeight": "bold", "fontSize": 14}, "encoding": {"text": {"field": "txt"}}},
  {"data": {"name": "P3t"}, "transform": [{"filter": "datum.k == 'ann'"}], "mark": {"type": "text", "fontSize": 16}, "encoding": {"text": {"field": "txt"}}},
  {"data": {"name": "P3t"}, "transform": [{"filter": "datum.k == 'ng'"}], "mark": {"type": "text", "fontSize": 14, "color": "#555555"}, "encoding": {"text": {"field": "txt"}}},
  {"data": {"name": "P3t"}, "transform": [{"filter": "datum.k == 'lab'"}], "mark": {"type": "text", "fontWeight": "bold", "fontSize": 18}, "encoding": {"text": {"field": "txt"}}}
 ]
},
{
 "width": 279, "height": 187,
 "encoding": {
   "x": {"field": "t", "type": "quantitative", "scale": {"domain": [0, 25], "nice": false}, "axis": {"values": [0, 5, 10, 15, 20, 25], "title": "Years"}},
   "y": {"field": "s", "type": "quantitative", "scale": {"domain": [0, 100], "nice": false}, "axis": {"values": [0, 20, 40, 60, 80, 100], "title": null}}
 },
 "layer": [
  {"data": {"name": "P4"}, "mark": {"type": "line", "interpolate": "step-after", "strokeWidth": 2},
   "encoding": {"color": {"field": "g", "type": "nominal", "scale": {"domain": ["lo", "hi"], "range": ["#2B3A91", "#E3262C"]}, "legend": {"legendX": 38.5, "legendY": 122}}}},
  {"data": {"name": "P4c"}, "mark": {"type": "point", "shape": "M0,0V-1", "size": 81, "filled": false, "strokeWidth": 1.5, "opacity": 1},
   "encoding": {"color": {"field": "g", "type": "nominal", "legend": null}}},
  {"data": {"name": "P4t"}, "transform": [{"filter": "datum.k == 'ti'"}], "mark": {"type": "text", "align": "right", "fontStyle": "italic", "fontWeight": "bold", "fontSize": 14}, "encoding": {"text": {"field": "txt"}}},
  {"data": {"name": "P4t"}, "transform": [{"filter": "datum.k == 'tn'"}], "mark": {"type": "text", "fontWeight": "bold", "fontSize": 14}, "encoding": {"text": {"field": "txt"}}},
  {"data": {"name": "P4t"}, "transform": [{"filter": "datum.k == 'ann'"}], "mark": {"type": "text", "fontSize": 16}, "encoding": {"text": {"field": "txt"}}}
 ]
},
{
 "width": 279, "height": 187,
 "encoding": {
   "x": {"field": "t", "type": "quantitative", "scale": {"domain": [0, 30], "nice": false}, "axis": {"values": [0, 10, 20, 30], "title": "Years"}},
   "y": {"field": "s", "type": "quantitative", "scale": {"domain": [0, 100], "nice": false}, "axis": {"values": [0, 20, 40, 60, 80, 100], "title": null}}
 },
 "layer": [
  {"data": {"name": "P5"}, "mark": {"type": "line", "interpolate": "step-after", "strokeWidth": 2},
   "encoding": {"color": {"field": "g", "type": "nominal", "scale": {"domain": ["lo", "hi"], "range": ["#2B3A91", "#E3262C"]}, "legend": {"legendX": 27.5, "legendY": 117}}}},
  {"data": {"name": "P5c"}, "mark": {"type": "point", "shape": "M0,0V-1", "size": 81, "filled": false, "strokeWidth": 1.5, "opacity": 1},
   "encoding": {"color": {"field": "g", "type": "nominal", "legend": null}}},
  {"data": {"name": "P5t"}, "transform": [{"filter": "datum.k == 'ti'"}], "mark": {"type": "text", "align": "right", "fontStyle": "italic", "fontWeight": "bold", "fontSize": 16}, "encoding": {"text": {"field": "txt"}}},
  {"data": {"name": "P5t"}, "transform": [{"filter": "datum.k == 'tn'"}], "mark": {"type": "text", "fontWeight": "bold", "fontSize": 16}, "encoding": {"text": {"field": "txt"}}},
  {"data": {"name": "P5t"}, "transform": [{"filter": "datum.k == 'ann'"}], "mark": {"type": "text", "fontSize": 16}, "encoding": {"text": {"field": "txt"}}}
 ]
},
{
 "width": 279, "height": 187,
 "encoding": {
   "x": {"field": "t", "type": "quantitative", "scale": {"domain": [0, 30], "nice": false}, "axis": {"values": [0, 10, 20, 30], "title": "Years"}},
   "y": {"field": "s", "type": "quantitative", "scale": {"domain": [0, 100], "nice": false}, "axis": {"values": [0, 20, 40, 60, 80, 100], "title": null}}
 },
 "layer": [
  {"data": {"name": "P6"}, "mark": {"type": "line", "interpolate": "step-after", "strokeWidth": 2},
   "encoding": {"color": {"field": "g", "type": "nominal", "scale": {"domain": ["lo", "hi"], "range": ["#2B3A91", "#E3262C"]}, "legend": {"legendX": 32.5, "legendY": 121}}}},
  {"data": {"name": "P6c"}, "mark": {"type": "point", "shape": "M0,0V-1", "size": 81, "filled": false, "strokeWidth": 1.5, "opacity": 1},
   "encoding": {"color": {"field": "g", "type": "nominal", "legend": null}}},
  {"data": {"name": "P6t"}, "transform": [{"filter": "datum.k == 'ti'"}], "mark": {"type": "text", "align": "right", "fontStyle": "italic", "fontWeight": "bold", "fontSize": 16}, "encoding": {"text": {"field": "txt"}}},
  {"data": {"name": "P6t"}, "transform": [{"filter": "datum.k == 'tn'"}], "mark": {"type": "text", "fontWeight": "bold", "fontSize": 16}, "encoding": {"text": {"field": "txt"}}},
  {"data": {"name": "P6t"}, "transform": [{"filter": "datum.k == 'ann'"}], "mark": {"type": "text", "fontSize": 16}, "encoding": {"text": {"field": "txt"}}}
 ]
},
{
 "width": 279, "height": 187,
 "encoding": {
   "x": {"field": "t", "type": "quantitative", "scale": {"domain": [0, 20], "nice": false}, "axis": {"values": [0, 5, 10, 15, 20], "title": "Years"}},
   "y": {"field": "s", "type": "quantitative", "scale": {"domain": [0, 100], "nice": false}, "axis": {"values": [0, 20, 40, 60, 80, 100], "title": ["Distant metastasis", "free survival (%)"]}}
 },
 "layer": [
  {"data": {"name": "P7"}, "mark": {"type": "line", "interpolate": "step-after", "strokeWidth": 2},
   "encoding": {"color": {"field": "g", "type": "nominal", "scale": {"domain": ["lo-lo", "hi-hi"], "range": ["#2B3A91", "#E3262C"]}, "legend": {"legendX": 32.5, "legendY": 118}}}},
  {"data": {"name": "P7c"}, "mark": {"type": "point", "shape": "M0,0V-1", "size": 81, "filled": false, "strokeWidth": 1.5, "opacity": 1},
   "encoding": {"color": {"field": "g", "type": "nominal", "legend": null}}},
  {"data": {"name": "P7t"}, "transform": [{"filter": "datum.k == 'ti'"}], "mark": {"type": "text", "align": "right", "fontStyle": "italic", "fontWeight": "bold", "fontSize": 15}, "encoding": {"text": {"field": "txt"}}},
  {"data": {"name": "P7t"}, "transform": [{"filter": "datum.k == 'tn'"}], "mark": {"type": "text", "fontWeight": "bold", "fontSize": 16}, "encoding": {"text": {"field": "txt"}}},
  {"data": {"name": "P7t"}, "transform": [{"filter": "datum.k == 'tc'"}], "mark": {"type": "text", "align": "center", "fontWeight": "bold", "fontSize": 16}, "encoding": {"text": {"field": "txt"}}},
  {"data": {"name": "P7t"}, "transform": [{"filter": "datum.k == 'ann'"}], "mark": {"type": "text", "fontSize": 16}, "encoding": {"text": {"field": "txt"}}},
  {"data": {"name": "P7t"}, "transform": [{"filter": "datum.k == 'pv'"}], "mark": {"type": "text", "fontSize": 18}, "encoding": {"text": {"field": "txt"}}},
  {"data": {"name": "P7t"}, "transform": [{"filter": "datum.k == 'lab'"}], "mark": {"type": "text", "fontWeight": "bold", "fontSize": 18}, "encoding": {"text": {"field": "txt"}}}
 ]
},
{
 "width": 279, "height": 187,
 "encoding": {
   "x": {"field": "t", "type": "quantitative", "scale": {"domain": [0, 20], "nice": false}, "axis": {"values": [0, 5, 10, 15, 20], "title": "Years"}},
   "y": {"field": "s", "type": "quantitative", "scale": {"domain": [0, 100], "nice": false}, "axis": {"values": [0, 20, 40, 60, 80, 100], "title": null}}
 },
 "layer": [
  {"data": {"name": "P8"}, "mark": {"type": "line", "interpolate": "step-after", "strokeWidth": 2},
   "encoding": {"color": {"field": "g", "type": "nominal", "scale": {"domain": ["lo-lo", "hi-hi"], "range": ["#2B3A91", "#E3262C"]}, "legend": {"legendX": 30.5, "legendY": 117}}}},
  {"data": {"name": "P8c"}, "mark": {"type": "point", "shape": "M0,0V-1", "size": 81, "filled": false, "strokeWidth": 1.5, "opacity": 1},
   "encoding": {"color": {"field": "g", "type": "nominal", "legend": null}}},
  {"data": {"name": "P8t"}, "transform": [{"filter": "datum.k == 'ti'"}], "mark": {"type": "text", "align": "right", "fontStyle": "italic", "fontWeight": "bold", "fontSize": 15}, "encoding": {"text": {"field": "txt"}}},
  {"data": {"name": "P8t"}, "transform": [{"filter": "datum.k == 'tn'"}], "mark": {"type": "text", "fontWeight": "bold", "fontSize": 16}, "encoding": {"text": {"field": "txt"}}},
  {"data": {"name": "P8t"}, "transform": [{"filter": "datum.k == 'tc'"}], "mark": {"type": "text", "align": "center", "fontWeight": "bold", "fontSize": 16}, "encoding": {"text": {"field": "txt"}}},
  {"data": {"name": "P8t"}, "transform": [{"filter": "datum.k == 'ann'"}], "mark": {"type": "text", "fontSize": 16}, "encoding": {"text": {"field": "txt"}}},
  {"data": {"name": "P8t"}, "transform": [{"filter": "datum.k == 'pv'"}], "mark": {"type": "text", "fontSize": 18}, "encoding": {"text": {"field": "txt"}}}
 ]
}
]
}
